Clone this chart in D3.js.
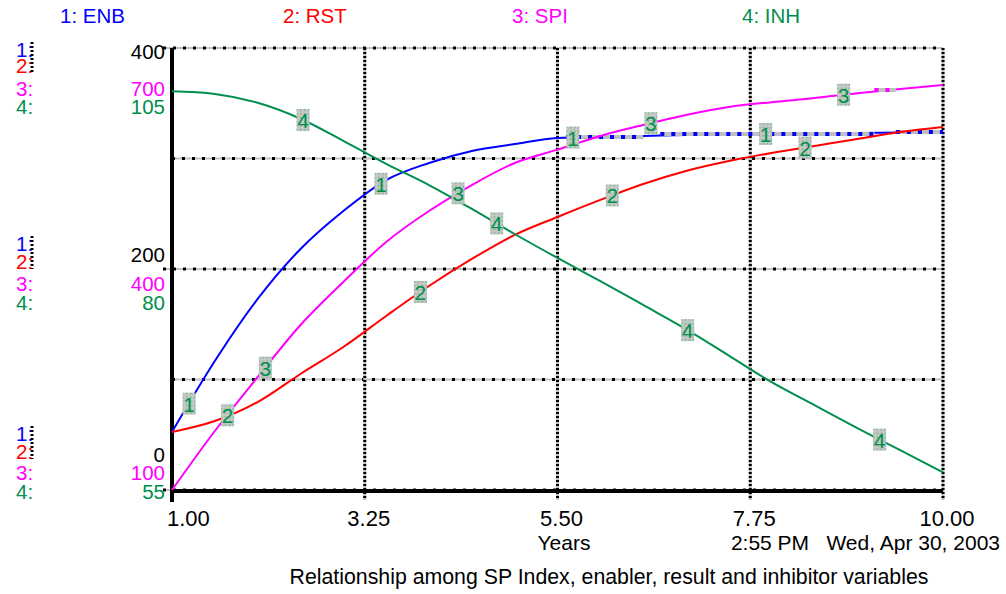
<!DOCTYPE html>
<html>
<head>
<meta charset="utf-8" />
<title>SP Index</title>
<script src="https://d3js.org/d3.v7.min.js"></script>
<style>
body { margin: 0; background: #fff; }
svg { display: block; }
text { font-family: "Liberation Sans", Arial, sans-serif; }
</style>
</head>
<body>
<div id="chart"></div>
<script>
// time in years
var years = [1, 1.5, 2, 2.5, 3, 3.5, 4, 4.5, 5, 5.5, 6, 6.5, 7, 7.5, 8, 8.5, 9, 9.5, 10];
var enb = [52.5, 116.7, 172.9, 218.1, 252.5, 280.5, 295.9, 306.8, 313.1, 318.6, 319.5, 320.4, 321.3, 321.7, 322.2, 322.6, 323.1, 323.5, 324];
var rst = [52.5, 62.4, 79.6, 105, 129.4, 157.5, 184.6, 209.1, 230.8, 247.1, 262.5, 276.9, 288.7, 297.7, 305, 311.3, 317.6, 324, 328.5];
var spi = [100, 180.1, 253.4, 324, 382.4, 436.7, 478.7, 514, 543.9, 562, 580.6, 595.5, 609.1, 619.9, 626.5, 632, 638.7, 644.4, 649.8];
var inh = [100.1, 99.8, 98.8, 97.0, 94.5, 91.9, 89.5, 86.8, 83.96, 81.25, 78.64, 75.93, 73.2, 70.2, 67.2, 64.6, 62.0, 59.5, 57.0];

var names = ["1: ENB", "2: RST", "3: SPI", "4: INH"];
var colors = ["#0000ff", "#ff0000", "#ff00ff", "#008f4c"];
var xTicks = [1, 3.25, 5.5, 7.75, 10];
var xTickLabels = ["1.00", "3.25", "5.50", "7.75", "10.00"];
// scale labels: [ENB/RST, SPI, INH] at top, middle, bottom
var scaleTop = ["400", "700", "105"];
var scaleMid = ["200", "400", "80"];
var scaleBot = ["0", "100", "55"];
// where each series' label number sits along the line
var markerT = [
    [1.2, 3.44, 5.68, 7.93],
    [1.65, 3.9, 6.14, 8.39],
    [2.09, 4.34, 6.59, 8.84],
    [2.53, 4.79, 7.02, 9.26]
];
// stretches where the renderer drew the line as a dotted flat run
var flatRuns = [[[5.6, 6.5], [6.7, 9.2], [9.45, 10]], [], [[9.2, 9.45]], []];

var width = 1006, height = 594;
var x0 = 172, x1 = 943, yTop = 48, yBot = 490;

var x = d3.scaleLinear().domain([1, 10]).range([x0, x1]);
var y12 = d3.scaleLinear().domain([0, 400]).range([yBot, yTop]);
var y3 = d3.scaleLinear().domain([100, 700]).range([yBot, yTop]);
var y4 = d3.scaleLinear().domain([55, 105]).range([yBot, yTop]);
var yScales = [y12, y12, y3, y4];
var series = [enb, rst, spi, inh];

var svg = d3.select("#chart").append("svg")
    .attr("width", width).attr("height", height);

var defs = svg.append("defs");
var pat = defs.append("pattern").attr("id", "dots")
    .attr("width", 4).attr("height", 4).attr("patternUnits", "userSpaceOnUse");
pat.append("rect").attr("width", 4).attr("height", 4).attr("fill", "#c4c8c4");
pat.append("rect").attr("x", 1).attr("y", 1).attr("width", 1.5).attr("height", 1.5).attr("fill", "#6fb08a");

// legend
svg.append("g").selectAll("text")
    .data(names)
    .enter().append("text")
    .attr("x", function(d, i) { return [60, 283, 512, 742][i]; })
    .attr("y", 23)
    .attr("font-size", 20.5)
    .attr("fill", function(d, i) { return colors[i]; })
    .text(function(d) { return d; });

// grid
var grid = svg.append("g");
var hLines = [0, 100, 200, 300, 400];
hLines.forEach(function(v) {
    var yy = y12(v);
    var xs = (v == 0 || v == 200 || v == 400) ? 163 : x0;
    grid.append("line").attr("x1", xs).attr("x2", x1).attr("y1", yy).attr("y2", yy)
        .attr("stroke", "#c0c0c0").attr("stroke-width", 2);
    grid.append("line").attr("x1", xs).attr("x2", x1).attr("y1", yy).attr("y2", yy)
        .attr("stroke", "#000").attr("stroke-width", 3).attr("stroke-dasharray", "3,7");
});
xTicks.slice(1).forEach(function(t) {
    var xx = x(t);
    grid.append("line").attr("x1", xx).attr("x2", xx).attr("y1", yTop).attr("y2", 500)
        .attr("stroke", "#c0c0c0").attr("stroke-width", 3);
    grid.append("line").attr("x1", xx).attr("x2", xx).attr("y1", yTop).attr("y2", 500)
        .attr("stroke", "#000").attr("stroke-width", 3).attr("stroke-dasharray", "2,2");
});

// axes
svg.append("line").attr("x1", x0).attr("x2", x1).attr("y1", yBot + 1).attr("y2", yBot + 1)
    .attr("stroke", "#000").attr("stroke-width", 4);
svg.append("line").attr("x1", x0).attr("x2", x0).attr("y1", yTop).attr("y2", 502)
    .attr("stroke", "#000").attr("stroke-width", 4);

// x tick labels
svg.append("g").selectAll("text")
    .data(xTicks)
    .enter().append("text")
    .attr("x", function(d, i) { return i == 0 ? x(d) - 5 : x(d) + 4; })
    .attr("y", 526)
    .attr("font-size", 22)
    .attr("text-anchor", function(d, i) { return i == 0 ? "start" : "middle"; })
    .text(function(d, i) { return xTickLabels[i]; });

svg.append("text").attr("x", 564).attr("y", 550).attr("font-size", 21)
    .attr("text-anchor", "middle").text("Years");
svg.append("text").attr("x", 770).attr("y", 550).attr("font-size", 21)
    .attr("text-anchor", "middle").text("2:55 PM");
svg.append("text").attr("x", 1000).attr("y", 550).attr("font-size", 21)
    .attr("text-anchor", "end").text("Wed, Apr 30, 2003");
svg.append("text").attr("x", 609).attr("y", 584).attr("font-size", 21.3)
    .attr("text-anchor", "middle").text("Relationship among SP Index, enabler, result and inhibitor variables");

// left scale labels: groups aligned top / centre / bottom of their grid line
var groups = [
    { y: y12(400), off: [2, 18, 41, 59], num: [4, 41, 59], vals: scaleTop },
    { y: y12(200), off: [-25, -7, 15, 34], num: [-14, 15, 34], vals: scaleMid },
    { y: y12(0), off: [-56, -38, -17, 2], num: [-35, -17, 2], vals: scaleBot }
];
var lab = svg.append("g").attr("font-size", 20.5);
groups.forEach(function(g) {
    g.off.forEach(function(o, i) {
        lab.append("text").attr("x", 16).attr("y", g.y + o + 7)
            .attr("fill", colors[i]).text((i + 1) + ":");
    });
    g.vals.forEach(function(v, i) {
        lab.append("text").attr("x", 165).attr("y", g.y + g.num[i] + 7)
            .attr("text-anchor", "end")
            .attr("fill", ["#000", colors[2], colors[3]][i]).text(v);
    });
    lab.append("line").attr("x1", 32).attr("x2", 32)
        .attr("y1", g.y + g.off[0] - 8).attr("y2", g.y + g.off[1] + 7)
        .attr("stroke", "#000").attr("stroke-width", 3).attr("stroke-dasharray", "2,2");
});

// lines
function valueAt(s, t) {
    var i = Math.min(d3.bisectRight(years, t) - 1, years.length - 2);
    var f = (t - years[i]) / (years[i + 1] - years[i]);
    return s[i] + (s[i + 1] - s[i]) * f;
}

var plot = svg.append("g");
series.forEach(function(s, k) {
    var ys = yScales[k];
    var line = d3.line()
        .x(function(d, i) { return x(years[i]); })
        .y(function(d) { return ys(d); })
        .curve(d3.curveMonotoneX);
    plot.append("path").datum(s)
        .attr("d", line)
        .attr("fill", "none")
        .attr("stroke", colors[k])
        .attr("stroke-width", 2);
    flatRuns[k].forEach(function(r) {
        var yy = Math.round(ys(valueAt(s, (r[0] + r[1]) / 2)));
        plot.append("line").attr("x1", x(r[0])).attr("x2", x(r[1])).attr("y1", yy).attr("y2", yy)
            .attr("stroke", "#c0c0c0").attr("stroke-width", 4);
        plot.append("line").attr("x1", x(r[0])).attr("x2", x(r[1])).attr("y1", yy).attr("y2", yy)
            .attr("stroke", colors[k]).attr("stroke-width", 4).attr("stroke-dasharray", "4,7");
    });
});

// number markers
series.forEach(function(s, k) {
    markerT[k].forEach(function(t) {
        var cx = x(t), cy = yScales[k](valueAt(s, t));
        var m = plot.append("g").attr("transform", "translate(" + cx + "," + cy + ")");
        m.append("rect").attr("x", -6.5).attr("y", -11).attr("width", 13).attr("height", 22)
            .attr("fill", "url(#dots)");
        m.append("text").attr("x", 0).attr("y", 8).attr("text-anchor", "middle")
            .attr("font-size", 21).attr("fill", colors[3]).text(k + 1);
    });
});
</script>
</body>
</html>
